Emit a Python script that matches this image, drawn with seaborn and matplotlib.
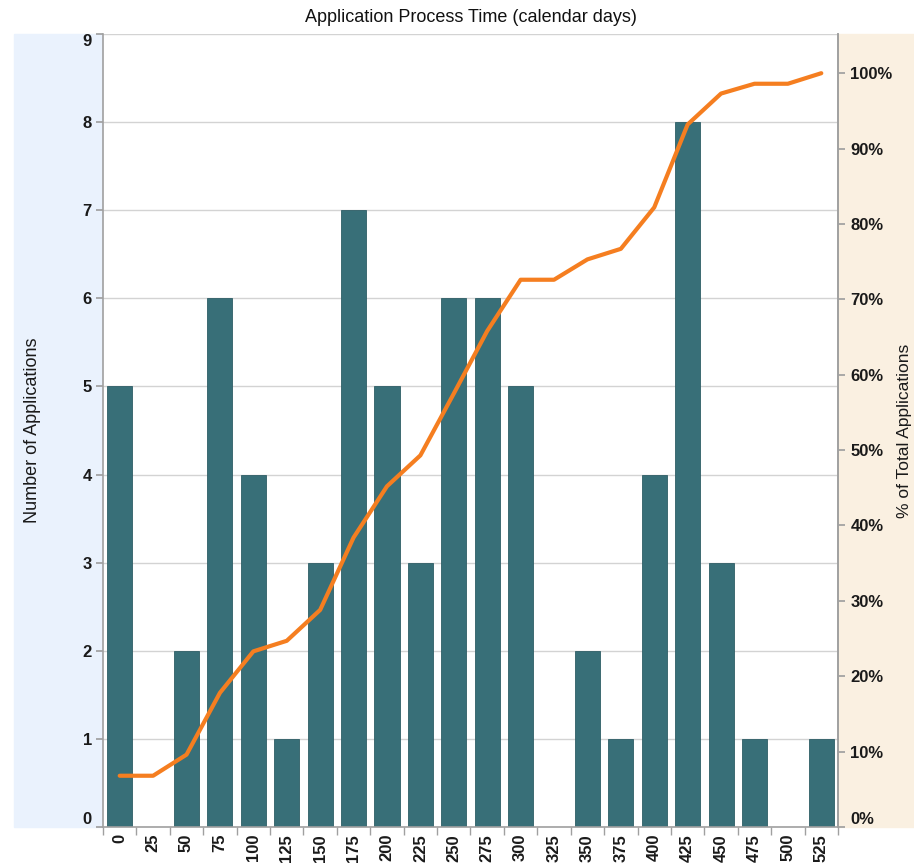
import numpy as np
import pandas as pd
import matplotlib
matplotlib.use("Agg")
import matplotlib.pyplot as plt
from matplotlib.patches import Rectangle
from matplotlib.ticker import FixedLocator, PercentFormatter
import seaborn as sns

# ==========================================
# dados
# ==========================================
dias = ['0', '25', '50', '75', '100', '125', '150', '175', '200', '225', '250',
        '275', '300', '325', '350', '375', '400', '425', '450', '475', '500', '525']
qtd_aplicacoes = [5, 0, 2, 6, 4, 1, 3, 7, 5, 3, 6, 6, 5, 0, 2, 1, 4, 8, 3, 1, 0, 1]
pct_acumulado = [6.8, 6.8, 9.6, 17.8, 23.3, 24.7, 28.8, 38.4, 45.2, 49.3, 57.5,
                 65.8, 72.6, 72.6, 75.3, 76.7, 82.2, 93.2, 97.3, 98.6, 98.6, 100.0]

df = pd.DataFrame({'dias': dias, 'qtd': qtd_aplicacoes, 'pct': pct_acumulado})
df['pos'] = np.arange(len(df))

sns.set_theme(style="white")
plt.rcParams['font.family'] = ['Liberation Sans', 'DejaVu Sans']

fig = plt.figure(figsize=(9.14, 8.64), dpi=100)
ax = fig.add_axes([103 / 914, 1 - 827 / 864, 735 / 914, 793 / 864])

# painéis de fundo (estilo Tableau)
fig.patches.append(Rectangle((14 / 914, 1 - 827 / 864), 89 / 914, 793 / 864,
                             transform=fig.transFigure, color='#EAF2FD', zorder=-5))
fig.patches.append(Rectangle((838 / 914, 1 - 827 / 864), 76 / 914, 793 / 864,
                             transform=fig.transFigure, color='#FAF0E1', zorder=-5))

sns.barplot(data=df, x='dias', y='qtd', order=dias, color='#386F78',
            saturation=1, width=0.75, edgecolor='#2E5E66', linewidth=0.6, ax=ax)
ax.set_xlim(-0.5, len(dias) - 0.5)
ax.set_ylim(0, 9)
ax.set_yticks(range(0, 10))
ax.yaxis.grid(True, color='#D3D3D3', linewidth=1)
ax.set_axisbelow(True)

ax.set_xlabel('')
ax.set_ylabel('Number of Applications', fontsize=13, color='#1A1A1A', labelpad=30)
ax.tick_params(axis='x', length=0, labelsize=12, rotation=90, pad=5, labelcolor='#1A1A1A')
ax.xaxis.set_minor_locator(FixedLocator(np.arange(-0.5, len(dias), 1)))
ax.tick_params(axis='x', which='minor', bottom=True, length=6, color='#A0A0A0', width=1)
ax.tick_params(axis='y', left=True, length=5, color='#A0A0A0', labelsize=12,
               labelcolor='#1A1A1A', pad=3)
for lab in ax.get_xticklabels():
    lab.set_fontweight('bold')
ylabs = ax.get_yticklabels()
for lab in ylabs:
    lab.set_fontweight('bold')
# estilo Tableau: rótulos das pontas ficam dentro do eixo
ylabs[0].set_verticalalignment('bottom')
ylabs[-1].set_verticalalignment('top')

for s in ['left', 'bottom', 'right']:
    ax.spines[s].set_color('#A0A0A0')
    ax.spines[s].set_linewidth(1.2)
ax.spines['top'].set_visible(False)
ax.patch.set_facecolor('white')

# eixo secundário: percentual acumulado
ax2 = ax.twinx()
sns.lineplot(data=df, x='pos', y='pct', color='#F57E20', linewidth=3, ax=ax2)
ax2.set_ylim(0, 105.2)
ax2.set_yticks(range(0, 101, 10))
ax2.yaxis.set_major_formatter(PercentFormatter(decimals=0))
ax2.set_ylabel('% of Total Applications', fontsize=12.5, color='#1A1A1A', labelpad=3)
ax2.tick_params(axis='y', right=True, length=5, color='#A0A0A0', labelsize=12,
                labelcolor='#1A1A1A', pad=4)
ylabs2 = ax2.get_yticklabels()
for lab in ylabs2:
    lab.set_fontweight('bold')
ylabs2[0].set_verticalalignment('bottom')
ax2.set_xlabel('')
ax2.set_xlim(-0.5, len(dias) - 0.5)
for s in ['top', 'left', 'bottom']:
    ax2.spines[s].set_visible(False)
ax2.spines['right'].set_color('#A0A0A0')
ax2.spines['right'].set_linewidth(1.2)

fig.text(471 / 914, 1 - 17 / 864, 'Application Process Time (calendar days)',
         ha='center', va='center', fontsize=13, color='#111111')

fig.savefig('out.png', dpi=100)
